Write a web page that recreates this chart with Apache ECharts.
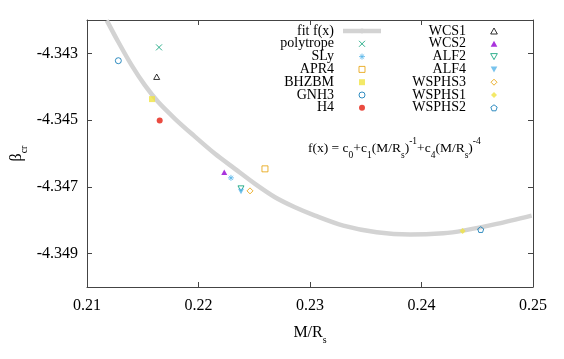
<!DOCTYPE html>
<html>
<head>
<meta charset="utf-8">
<script src="https://cdn.jsdelivr.net/npm/echarts@6/dist/echarts.min.js"></script>
<style>
html, body { margin: 0; padding: 0; background: #fff; }
#main { width: 564px; height: 359px; }
</style>
</head>
<body>
<div id="main"></div>
<script>
var chart = echarts.init(document.getElementById('main'));

// data
const eosNames = ['polytrope', 'SLy', 'APR4', 'BHZBM', 'GNH3', 'H4', 'WCS1', 'WCS2', 'ALF2', 'ALF4', 'WSPHS3', 'WSPHS1', 'WSPHS2'];
const compactness = [0.21646, 0.22291, 0.22596, 0.21583, 0.21281, 0.21652, 0.21625, 0.22231, 0.22381, 0.22381, 0.22462, 0.24369, 0.24531];
const betaCr = [-4.34282, -4.34673, -4.34646, -4.34437, -4.34322, -4.34501, -4.34370, -4.34656, -4.34705, -4.34714, -4.34712, -4.34832, -4.34828];

// fit curve, points
const fitX = [0.21177, 0.21281, 0.21401, 0.21520, 0.21639, 0.21789, 0.21939, 0.22148, 0.22327, 0.22507, 0.22686, 0.22865, 0.23045, 0.23299, 0.23598, 0.23897, 0.24196, 0.24375, 0.24674, 0.24988];
const fitY = [-4.34201, -4.34266, -4.34336, -4.34396, -4.34446, -4.34496, -4.34541, -4.34601, -4.34646, -4.34691, -4.34731, -4.34761, -4.34786, -4.34816, -4.34836, -4.34843, -4.34839, -4.34831, -4.34811, -4.34786];

const xTicks = [0.21, 0.22, 0.23, 0.24, 0.25];
const yTicks = [-4.349, -4.347, -4.345, -4.343];

// gnuplot-like point styles (paths so legend icons keep their aspect)
const crossPath = 'path://M0,0L10,10M10,0L0,10';
const starPath = 'path://M5,0L5,10M0,5L10,5M1.5,1.5L8.5,8.5M8.5,1.5L1.5,8.5';
const pentPath = 'path://M5,0L9.76,3.45L7.94,9.05L2.06,9.05L0.24,3.45Z';
const squarePath = 'path://M0,0L10,0L10,10L0,10Z';
const triPath = 'path://M5,0L10,9L0,9Z';
const triDownPath = 'path://M0,0L10,0L5,9Z';
const diamondPath = 'path://M5,0L10,5L5,10L0,5Z';
const styles = {
  polytrope: { symbol: crossPath, color: '#009e73', open: true },
  SLy: { symbol: starPath, color: '#56b4e9', open: true },
  APR4: { symbol: squarePath, color: '#e69f00', open: true },
  BHZBM: { symbol: squarePath, color: '#f0e442' },
  GNH3: { symbol: 'circle', color: '#0072b2', open: true },
  H4: { symbol: 'circle', color: '#e51e10' },
  WCS1: { symbol: triPath, color: '#000000', open: true },
  WCS2: { symbol: triPath, color: '#9400d3' },
  ALF2: { symbol: triDownPath, color: '#009e73', open: true },
  ALF4: { symbol: triDownPath, color: '#56b4e9' },
  WSPHS3: { symbol: diamondPath, color: '#e69f00', open: true },
  WSPHS1: { symbol: diamondPath, color: '#f0e442' },
  WSPHS2: { symbol: pentPath, color: '#0072b2', open: true }
};

const font = 'Liberation Serif';
const axisColor = '#444';

var series = [{
  name: 'fit f(x)',
  type: 'line',
  data: fitX.map(function (x, i) { return [x, fitY[i]]; }),
  symbol: 'none',
  showSymbol: false,
  smooth: 0.3,
  lineStyle: { color: '#d3d3d3', width: 4.5 },
  itemStyle: { color: '#d3d3d3' },
  z: 1
}];
eosNames.forEach(function (name, i) {
  var s = styles[name];
  series.push({
    name: name,
    type: 'scatter',
    data: [[compactness[i], betaCr[i]]],
    symbol: s.symbol,
    symbolSize: 6,
    symbolKeepAspect: true,
    itemStyle: s.open
      ? { color: 'rgba(255,255,255,0)', borderColor: s.color, borderWidth: 1 }
      : { color: s.color, borderWidth: 0 },
    z: 3
  });
});

function legendCfg(names, left) {
  return {
    data: names,
    orient: 'vertical',
    align: 'right',
    left: left,
    top: 24,
    padding: 0,
    itemGap: -1.2,
    itemWidth: 38,
    itemHeight: 6,
    selectedMode: false,
    symbolKeepAspect: true,
    itemStyle: { borderWidth: 1 },
    lineStyle: { width: 4.5 },
    textStyle: { fontFamily: font, fontSize: 14, color: '#000', lineHeight: 12, width: 70, padding: [0, 4, 0, 0] }
  };
}

var subRich = {
  sub: { fontFamily: font, fontSize: 10, lineHeight: 12, verticalAlign: 'bottom', color: '#000' },
  m: { fontFamily: font, fontSize: 16, lineHeight: 24, color: '#000' }
};

var option = {
  animation: false,
  backgroundColor: '#fff',
  grid: { left: 87, right: 31, top: 20, bottom: 72, outerBoundsMode: 'none' },
  legend: [
    legendCfg(['fit f(x)', 'polytrope', 'SLy', 'APR4', 'BHZBM', 'GNH3', 'H4'], 264),
    legendCfg(['WCS1', 'WCS2', 'ALF2', 'ALF4', 'WSPHS3', 'WSPHS1', 'WSPHS2'], 396)
  ],
  xAxis: [{
    type: 'value',
    position: 'bottom',
    min: 0.21, max: 0.25, interval: 0.01,
    name: '{m|M/R}{sub|s}',
    nameLocation: 'middle',
    nameGap: 34,
    nameMoveOverlap: false,
    nameTextStyle: { rich: subRich },
    axisLine: { lineStyle: { color: axisColor, width: 1 } },
    axisTick: { inside: true, length: 5, lineStyle: { color: axisColor }, customValues: xTicks },
    axisLabel: { fontFamily: font, fontSize: 16, color: '#000', margin: 11, customValues: xTicks,
      formatter: function (v) { return v.toFixed(2); } },
    splitLine: { show: false }
  }, {
    type: 'value',
    position: 'top',
    min: 0.21, max: 0.25, interval: 0.01,
    axisLine: { lineStyle: { color: axisColor, width: 1 } },
    axisTick: { inside: true, length: 5, lineStyle: { color: axisColor }, customValues: xTicks },
    axisLabel: { show: false },
    splitLine: { show: false }
  }],
  yAxis: [{
    type: 'value',
    position: 'left',
    min: -4.350, max: -4.342,
    name: '{m|β}{sub|cr}',
    nameLocation: 'middle',
    nameRotate: 90,
    nameGap: 58,
    nameMoveOverlap: false,
    nameTextStyle: { rich: subRich },
    axisLine: { lineStyle: { color: axisColor, width: 1 } },
    axisTick: { inside: true, length: 5, lineStyle: { color: axisColor }, customValues: yTicks },
    axisLabel: { fontFamily: font, fontSize: 16, color: '#000', margin: 9, customValues: yTicks,
      formatter: function (v) { return v.toFixed(3); } },
    splitLine: { show: false }
  }, {
    type: 'value',
    position: 'right',
    min: -4.350, max: -4.342,
    axisLine: { lineStyle: { color: axisColor, width: 1 } },
    axisTick: { inside: true, length: 5, lineStyle: { color: axisColor }, customValues: yTicks },
    axisLabel: { show: false },
    splitLine: { show: false }
  }],
  graphic: [{
    type: 'text',
    left: 308,
    top: 136,
    style: {
      text: '{m|f(x) = c}{sub|0}{m|+c}{sub|1}{m|(M/R}{sub|s}{m|)}{sup|-1}{m|+c}{sub|4}{m|(M/R}{sub|s}{m|)}{sup|-4}',
      rich: {
        m: { fontFamily: font, fontSize: 13.5, lineHeight: 24, color: '#000' },
        sub: { fontFamily: font, fontSize: 9.5, lineHeight: 12, verticalAlign: 'bottom', color: '#000' },
        sup: { fontFamily: font, fontSize: 9.5, lineHeight: 10, verticalAlign: 'top', color: '#000' }
      }
    }
  }],
  series: series
};
chart.setOption(option);
</script>
</body>
</html>
